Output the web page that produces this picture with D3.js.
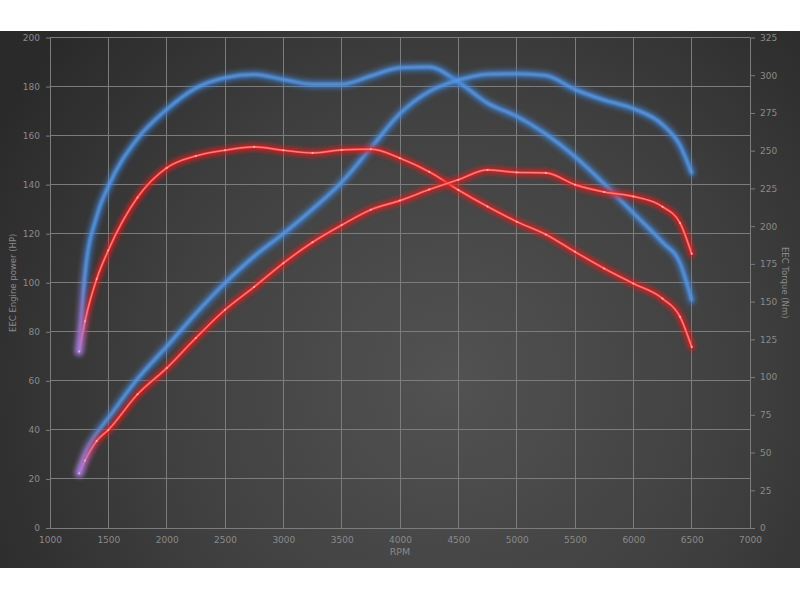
<!DOCTYPE html>
<html><head><meta charset="utf-8">
<script src="https://cdn.jsdelivr.net/npm/d3@7/dist/d3.min.js"></script>
<style>html,body{margin:0;padding:0;background:#fff;}svg{display:block;}</style>
</head><body>
<svg id="chart" width="800" height="600"></svg>
<script>
const rpm = [1250,1300,1400,1500,1750,2000,2250,2500,2750,3000,3250,3500,3750,4000,4250,4500,4750,5000,5250,5500,5750,6000,6250,6400,6500];
const powerStock = [22.3,27.5,35.5,40,54.5,65.2,77.5,89,98.3,108,116.5,123.5,129.8,133.5,138,142,146,145,144.8,140,137,135.2,131,124.4,111.8];
const powerTuned = [22.3,30,38.5,44.8,60.8,74,87.5,99.9,110.8,120,130,141,155,169,178,182.6,185,185.2,184.5,178.8,174.5,171,164.5,156,144.8];
const torqueStock = [117,137,165,184,219,238.6,246.5,250.3,252.5,250.3,248.5,250.5,251,245,236,224,213,203,194.5,183,172,162,152,140,120];
const torqueTuned = [117,168,206.5,226.4,258,277.3,291.5,298.3,300.5,297.2,294,294,299.5,305,305.5,295.5,281.5,272.8,261,246,228,208.7,189.3,175.6,151];
const xTicks = [1000,1500,2000,2500,3000,3500,4000,4500,5000,5500,6000,6500,7000];
const hpTicks = [0,20,40,60,80,100,120,140,160,180,200];
const nmTicks = [0,25,50,75,100,125,150,175,200,225,250,275,300,325];

const svg = d3.select("#chart");
const W = 800, H = 600;
const x = d3.scaleLinear().domain([1000,7000]).range([50,750]);
const yL = d3.scaleLinear().domain([0,200]).range([528,37.5]);
const yR = d3.scaleLinear().domain([0,325]).range([528,37.5]);

const defs = svg.append("defs");
const bg = defs.append("radialGradient").attr("id","bg")
  .attr("gradientUnits","userSpaceOnUse").attr("cx",450).attr("cy",380).attr("r",520);
bg.append("stop").attr("offset",0).attr("stop-color","#525252");
bg.append("stop").attr("offset",0.55).attr("stop-color","#404040");
bg.append("stop").attr("offset",1).attr("stop-color","#2a2a2a");

const glow = defs.append("filter").attr("id","glow").attr("x","-10%").attr("y","-10%").attr("width","120%").attr("height","120%");
glow.append("feGaussianBlur").attr("stdDeviation",2.4);
const glowB = defs.append("filter").attr("id","glowB").attr("x","-10%").attr("y","-10%").attr("width","120%").attr("height","120%");
glowB.append("feGaussianBlur").attr("stdDeviation",1.0);

function grad(id, col, x2){
  const g = defs.append("linearGradient").attr("id",id).attr("gradientUnits","userSpaceOnUse")
    .attr("x1",x(1250)).attr("x2",x(x2)).attr("y1",0).attr("y2",0);
  g.append("stop").attr("offset",0).attr("stop-color","#a27ad8");
  g.append("stop").attr("offset",1).attr("stop-color",col);
}
grad("gRedGlowT","#e11d1d",1330);
grad("gRedCoreT","#ff4a4a",1330);
grad("gRedHiT","#ff9a9a",1330);
grad("gBlueGlowT","#3d82d6",1300);
grad("gBlueCoreT","#5d9be6",1300);
grad("gRedGlowP","#e11d1d",1420);
grad("gRedCoreP","#ff4a4a",1420);
grad("gRedHiP","#ff9a9a",1420);
grad("gBlueGlowP","#3d82d6",1420);
grad("gBlueCoreP","#5d9be6",1420);

svg.append("rect").attr("x",0).attr("y",31).attr("width",W).attr("height",537).attr("fill","url(#bg)");

const grid = svg.append("g").attr("stroke","#7c7c7c").attr("stroke-width",1).attr("shape-rendering","crispEdges");
grid.selectAll("line.v").data(xTicks).join("line")
  .attr("x1",d=>x(d)).attr("x2",d=>x(d)).attr("y1",yL(200)).attr("y2",yL(0));
grid.selectAll("line.h").data(hpTicks).join("line")
  .attr("x1",x(1000)).attr("x2",x(7000)).attr("y1",d=>yL(d)).attr("y2",d=>yL(d));

const tickCol = "#8a8a8a";
const font = "DejaVu Sans, sans-serif";
function styleAxis(g){
  g.select(".domain").remove();
  g.selectAll(".tick line").attr("stroke","#7c7c7c");
  g.selectAll(".tick text").attr("fill",tickCol).attr("font-family",font).attr("font-size",9);
}
svg.append("g").attr("transform",`translate(0,${yL(0)})`)
  .call(d3.axisBottom(x).tickValues(xTicks).tickSize(0).tickPadding(9).tickFormat(d3.format("d")))
  .call(styleAxis);
svg.append("g").attr("transform",`translate(${x(1000)},0)`)
  .call(d3.axisLeft(yL).tickValues(hpTicks).tickSize(4).tickPadding(6).tickFormat(d3.format("d")))
  .call(styleAxis);
svg.append("g").attr("transform",`translate(${x(7000)},0)`)
  .call(d3.axisRight(yR).tickValues(nmTicks).tickSize(5).tickPadding(5).tickFormat(d3.format("d")))
  .call(styleAxis);

svg.append("text").attr("x",400).attr("y",555).attr("text-anchor","middle")
  .attr("fill",tickCol).attr("font-family",font).attr("font-size",9.5).text("RPM");
svg.append("text").attr("transform",`translate(16,${(yL(0)+yL(200))/2}) rotate(-90)`).attr("text-anchor","middle")
  .attr("fill",tickCol).attr("font-family",font).attr("font-size",8.5).text("EEC Engine power (HP)");
svg.append("text").attr("transform",`translate(782,${(yL(0)+yL(200))/2}) rotate(90)`).attr("text-anchor","middle")
  .attr("fill",tickCol).attr("font-family",font).attr("font-size",8.5).text("EEC Torque (Nm)");

const lineL = d3.line().x((d,i)=>x(rpm[i])).y(d=>yL(d)).curve(d3.curveMonotoneX);
const lineR = d3.line().x((d,i)=>x(rpm[i])).y(d=>yR(d)).curve(d3.curveMonotoneX);

const plot = svg.append("g").attr("fill","none").attr("stroke-linecap","round").attr("stroke-linejoin","round");
function blue(path, s){
  plot.append("path").attr("d",path).attr("stroke",`url(#gBlueGlow${s})`).attr("stroke-width",8).attr("opacity",0.7).attr("filter","url(#glow)");
  plot.append("path").attr("d",path).attr("stroke",`url(#gBlueCore${s})`).attr("stroke-width",3).attr("opacity",0.9).attr("filter","url(#glowB)");
}
function red(path, vals, yS, s){
  plot.append("path").attr("d",path).attr("stroke",`url(#gRedGlow${s})`).attr("stroke-width",7).attr("opacity",0.8).attr("filter","url(#glow)");
  plot.append("path").attr("d",path).attr("stroke",`url(#gRedCore${s})`).attr("stroke-width",2.2);
  plot.append("path").attr("d",path).attr("stroke",`url(#gRedHi${s})`).attr("stroke-width",0.8).attr("opacity",0.9);
  plot.append("g").selectAll("circle").data(vals).join("circle")
    .attr("cx",(d,i)=>x(rpm[i])).attr("cy",d=>yS(d)).attr("r",1).attr("fill","#ffd0d0").attr("stroke","none").attr("opacity",0.7);
}
blue(lineR(torqueTuned), "T");
blue(lineL(powerTuned), "P");
red(lineR(torqueStock), torqueStock, yR, "T");
red(lineL(powerStock), powerStock, yL, "P");
</script>
</body></html>
